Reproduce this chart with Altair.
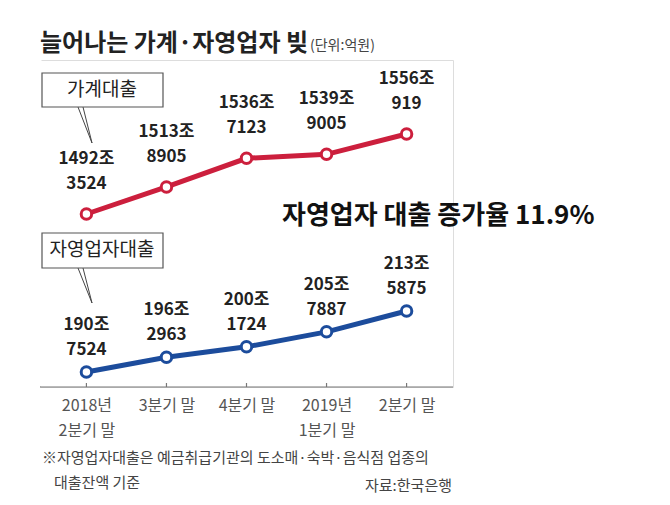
import altair as alt
import pandas as pd

# ---- data ----
quarters = ["2018년\n2분기 말", "3분기 말", "4분기 말", "2019년\n1분기 말", "2분기 말"]
household = [14923524, 15138905, 15367123, 15399005, 15560919]   # 억원
selfemp = [1907524, 1962963, 2001724, 2057887, 2135875]          # 억원

RED = "#cc1f3d"
BLUE = "#1c4c9c"
FONT = "Noto Sans CJK KR"


def fmt(v):
    return f"{v // 10000}조\n{v % 10000}"


df_h = pd.DataFrame({"q": quarters, "v": household, "lab": [fmt(v) for v in household]})
df_s = pd.DataFrame({"q": quarters, "v": selfemp, "lab": [fmt(v) for v in selfemp]})
df_q = pd.DataFrame({"q": quarters})

W, H = 413, 327

xenc = alt.X("q:N", sort=quarters,
             scale=alt.Scale(type="point", padding=0.58),
             axis=alt.Axis(title=None, labelAngle=0, ticks=False, grid=False, domain=False,
                           labelColor="#555", labelFont=FONT,
                           labelFontSize=16, labelPadding=10, labelLineHeight=25,
                           labelExpr="split(datum.label, '\\n')"))

yh = alt.Y("v:Q", scale=alt.Scale(domain=[13545157, 16150509], zero=False, nice=False), axis=None)
ys = alt.Y("v:Q", scale=alt.Scale(domain=[1851372, 3075483], zero=False, nice=False), axis=None)

base_h = alt.Chart(df_h)
base_s = alt.Chart(df_s)

red_line = base_h.mark_line(color=RED, strokeWidth=5).encode(x=xenc, y=yh)
red_pts = base_h.mark_point(shape="circle", filled=True, fill="white", stroke=RED,
                            strokeWidth=3, size=110, opacity=1).encode(x=xenc, y=yh)
red_txt = base_h.mark_text(lineBreak="\n", baseline="bottom", dy=-46, fontSize=17,
                           fontWeight="bold", font=FONT, color="#222",
                           lineHeight=25).encode(x=xenc, y=yh, text="lab:N")
red_layer = alt.layer(red_line, red_pts, red_txt)

blue_line = base_s.mark_line(color=BLUE, strokeWidth=5).encode(x=xenc, y=ys)
blue_pts = base_s.mark_point(shape="circle", filled=True, fill="white", stroke=BLUE,
                             strokeWidth=3, size=110, opacity=1).encode(x=xenc, y=ys)
blue_txt = base_s.mark_text(lineBreak="\n", baseline="bottom", dy=-38, fontSize=17,
                            fontWeight="bold", font=FONT, color="#222",
                            lineHeight=25).encode(x=xenc, y=ys, text="lab:N")
blue_layer = alt.layer(blue_line, blue_pts, blue_txt)

ticks = alt.Chart(df_q).mark_rule(color="#777", strokeWidth=1.2).encode(
    x=xenc, y=alt.value(H - 4), y2=alt.value(H))


# ---- annotations (pixel positions within plot area; origin at page x=40, y=60) ----
def rule(x1, y1, x2, y2, color="#444", w=1):
    return alt.Chart(df_q.head(1)).mark_rule(color=color, strokeWidth=w).encode(
        x=alt.value(x1), y=alt.value(y1), x2=alt.value(x2), y2=alt.value(y2))


def box(x1, y1, x2, y2):
    return alt.Chart(df_q.head(1)).mark_rect(fill="white", stroke="#555", strokeWidth=1.2).encode(
        x=alt.value(x1), y=alt.value(y1), x2=alt.value(x2), y2=alt.value(y2))


def txt(s, x, y, size, color="#222", weight="normal", align="left", baseline="middle"):
    return alt.Chart(df_q.head(1)).mark_text(text=s, fontSize=size, font=FONT, color=color,
                                            fontWeight=weight, align=align,
                                            baseline=baseline).encode(
        x=alt.value(x), y=alt.value(y))


annots = [
    rule(0, 0, 0, H - 1, color="white", w=3),   # mask stray left edge
    rule(0, H, W, H, color="#777", w=1.2),      # axis baseline
    txt("늘어나는 가계·자영업자 빚", 0, -16, 24, color="#222", weight="bold"),
    txt("(단위:억원)", 270, -14, 14, color="#444"),
    # household callout
    rule(38, 47, 52, 83), rule(43, 47, 52, 83),
    box(2, 13, 123, 47),
    txt("가계대출", 62, 30, 19, color="#222", align="center"),
    # self-employed callout
    rule(38, 208, 52, 243), rule(43, 208, 52, 243),
    box(2, 173, 123, 208),
    txt("자영업자대출", 62, 190, 19, color="#222", align="center"),
    # highlight
    txt("자영업자 대출 증가율 11.9%", 242, 156, 26, color="#111", weight="bold"),
    # footnotes
    txt("※자영업자대출은 예금취급기관의 도소매·숙박·음식점 업종의", 2, 398, 15, color="#444"),
    txt("대출잔액 기준", 14, 423, 15, color="#444"),
    txt("자료:한국은행", 412, 426, 15, color="#444", align="right"),
]

chart = alt.layer(
    red_layer, blue_layer, ticks, *annots
).resolve_scale(y="independent").properties(
    width=W, height=H,
    autosize=alt.AutoSizeParams(type="none"),
    padding={"left": 32, "top": 52, "right": 200, "bottom": 110},
).configure_view(strokeWidth=0, stroke="transparent").configure_axis(
    domain=False, grid=False
).configure_axisY(disable=True).configure(background="white")

chart.save("out.html", embed_options={"renderer": "svg", "actions": False})
